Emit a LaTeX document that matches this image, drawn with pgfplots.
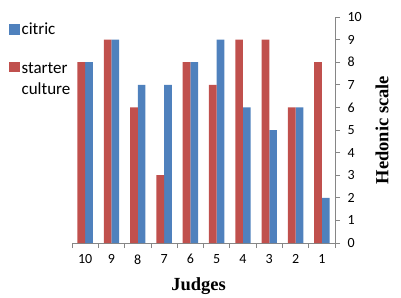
\documentclass[border=0pt]{standalone}
\usepackage{fontspec}
\setmainfont{Carlito}
\newfontfamily\tnr{Liberation Serif}
\usepackage{pgfplots}
\pgfplotsset{compat=1.18}
\definecolor{cblue}{HTML}{4F81BD}
\definecolor{cred}{HTML}{C0504D}
\definecolor{axgray}{HTML}{868686}
\begin{document}
\begin{tikzpicture}[x=1pt,y=1pt]
\useasboundingbox (0,0) rectangle (401,297);
\begin{axis}[
  at={(72pt,54pt)}, anchor=south west,
  scale only axis,
  width=263pt, height=226pt,
  xmin=-0.5, xmax=9.5,
  ymin=0, ymax=10,
  ybar, bar width=7.7pt,
  axis x line*=bottom,
  axis y line*=right,
  axis line style={draw=axgray, line width=0.8pt},
  xtick={0,...,9},
  xticklabels={10,9,8,7,6,5,4,3,2,1},
  minor xtick={-0.5,0.5,...,9.5},
  ytick={0,1,...,10},
  tick align=outside,
  major x tick style={draw=none},
  minor x tick style={draw=axgray, line width=0.8pt},
  minor tick length=5pt,
  y tick style={draw=axgray, line width=0.8pt},
  major tick length=5pt,
  /pgf/number format/assume math mode=true,
  tick label style={font=\fontsize{14}{16}\selectfont},
  xticklabel style={yshift=-3pt},
  yticklabel style={xshift=4pt},
  xlabel={Judges},
  ylabel={Hedonic scale},
  xlabel style={font=\tnr\bfseries\fontsize{18.5}{22}\selectfont, at={(axis description cs:0.481,-0.208)}, anchor=base},
  ylabel style={font=\tnr\bfseries\fontsize{18.5}{22}\selectfont, at={(axis description cs:1.179,0.5)}, anchor=center},
  legend style={draw=none, fill=none, inner sep=0pt, at={(axis description cs:-0.2395,0.982)}, anchor=north west,
    font=\fontsize{17}{20.7}\selectfont, row sep=18.8pt,
    nodes={inner sep=2pt, font=\fontsize{17}{20.7}\selectfont}, legend cell align=left},
  legend image code/.code={\fill[#1] (0pt,-4.7pt) rectangle (10.4pt,5.7pt);},
  clip=false,
]
\addplot[fill=cblue, draw=none, bar shift=3.85pt] coordinates {(0,8) (1,9) (2,7) (3,7) (4,8) (5,9) (6,6) (7,5) (8,6) (9,2)};
\addlegendentry{citric}
\addplot[fill=cred, draw=none, bar shift=-3.85pt] coordinates {(0,8) (1,9) (2,6) (3,3) (4,8) (5,7) (6,9) (7,9) (8,6) (9,8)};
\addlegendentry{\raisebox{0pt}[\height][0pt]{\begin{tabular}[t]{@{}l@{}}starter\\culture\end{tabular}}}
\end{axis}
\end{tikzpicture}
\end{document}
